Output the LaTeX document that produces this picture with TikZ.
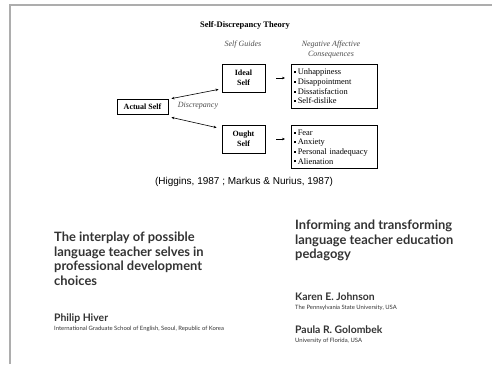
\documentclass[tikz,border=0pt]{standalone}
\usepackage{fontspec}
\setmainfont{Liberation Serif}
\newfontfamily\arialfont{Liberation Sans}
\newfontfamily\gillfont{Lato}
\usetikzlibrary{arrows.meta}

\definecolor{framegray}{rgb}{0.68,0.68,0.68}
\definecolor{subgray}{rgb}{0.30,0.30,0.30}

\newcommand{\sq}{\rule[0.4ex]{2pt}{2pt}\,}

\tikzset{
  selfbox/.style={draw, line width=0.8pt, font=\fontsize{8}{9.5}\selectfont\bfseries, align=center, inner sep=1pt},
  consbox/.style={draw, line width=0.8pt, font=\fontsize{8.4}{9.6}\selectfont, align=left, anchor=north west, text width=80pt, inner sep=3pt},
  guide/.style={font=\fontsize{8}{10}\selectfont\itshape, text=subgray, align=center},
  link/.style={line width=0.6pt, -{Stealth[length=3pt,width=2.6pt]}},
  dlink/.style={line width=0.6pt, {Stealth[length=3pt,width=2.6pt]}-{Stealth[length=3pt,width=2.6pt]}},
  paper/.style={font=\gillfont\bfseries\fontsize{12.9}{14.6}\selectfont, text=black!80, align=left, anchor=north west, inner sep=0pt},
  author/.style={font=\gillfont\bfseries\fontsize{10.4}{11}\selectfont, text=black!80, anchor=north west, inner sep=0pt},
  place/.style={font=\gillfont\fontsize{5.9}{7}\selectfont, text=black!80, anchor=north west, inner sep=0pt}
}

\begin{document}
\begin{tikzpicture}[x=1pt,y=-1pt]
  \useasboundingbox (0,0) rectangle (492,364);
  \draw[framegray, line width=1.2pt] (10,364) -- (10,5) -- (492,5);

  % diagram
  \node[font=\fontsize{8.5}{10}\selectfont\bfseries] (title) at (245,25) {Self-Discrepancy Theory};
  \node[guide] (guides) at (243,45) {Self Guides};
  \node[guide] (negcons) at (331,50) {Negative Affective\\Consequences};

  \node[selfbox, minimum width=51pt, minimum height=15pt] (actual) at (142.5,106.5) {Actual Self};
  \node[selfbox, minimum width=43pt, minimum height=28pt] (ideal) at (243.5,78) {Ideal\\Self};
  \node[selfbox, minimum width=43pt, minimum height=28pt] (ought) at (243.5,139) {Ought\\Self};
  \node[guide] (discr) at (198,106) {Discrepancy};

  \node[consbox, minimum height=44pt] (idealcons) at (291,64)
    {\sq Unhappiness\\ \sq Disappointment\\ \sq Dissatisfaction\\ \sq Self-dislike};
  \node[consbox, minimum height=43pt] (oughtcons) at (291,125)
    {\sq Fear\\ \sq Anxiety\\ \sq Personal inadequacy\\ \sq Alienation};

  \draw[dlink] ([xshift=3pt]actual.north east) -- ([xshift=-3pt,yshift=3pt]ideal.south west);
  \draw[dlink] ([xshift=3pt,yshift=-3pt]actual.south east) -- ([xshift=-5pt,yshift=-3pt]ought.north west);
  \draw[link, shorten <=11pt, shorten >=6pt] (ideal.east) -- (ideal.east -| idealcons.west);
  \draw[link, shorten <=11pt, shorten >=6pt] (ought.east) -- (ought.east -| oughtcons.west);

  \node[font=\arialfont\fontsize{10}{12}\selectfont] (cite) at (244,182) {(Higgins, 1987 ; Markus \& Nurius, 1987)};

  % papers
  \node[paper] (lefttitle) at (54,232) {The interplay of possible\\language teacher selves in\\professional development\\choices};
  \node[author] (hiver) at (54,314) {Philip Hiver};
  \node[place] (hiverplace) at (54,326) {International Graduate School of English, Seoul, Republic of Korea};

  \node[paper] (righttitle) at (295,220) {Informing and transforming\\language teacher education\\pedagogy};
  \node[author] (johnson) at (295,293) {Karen E. Johnson};
  \node[place] (johnsonplace) at (295,305) {The Pennsylvania State University, USA};
  \node[author] (golombek) at (295,326) {Paula R. Golombek};
  \node[place] (golombekplace) at (295,338) {University of Florida, USA};
\end{tikzpicture}
\end{document}
